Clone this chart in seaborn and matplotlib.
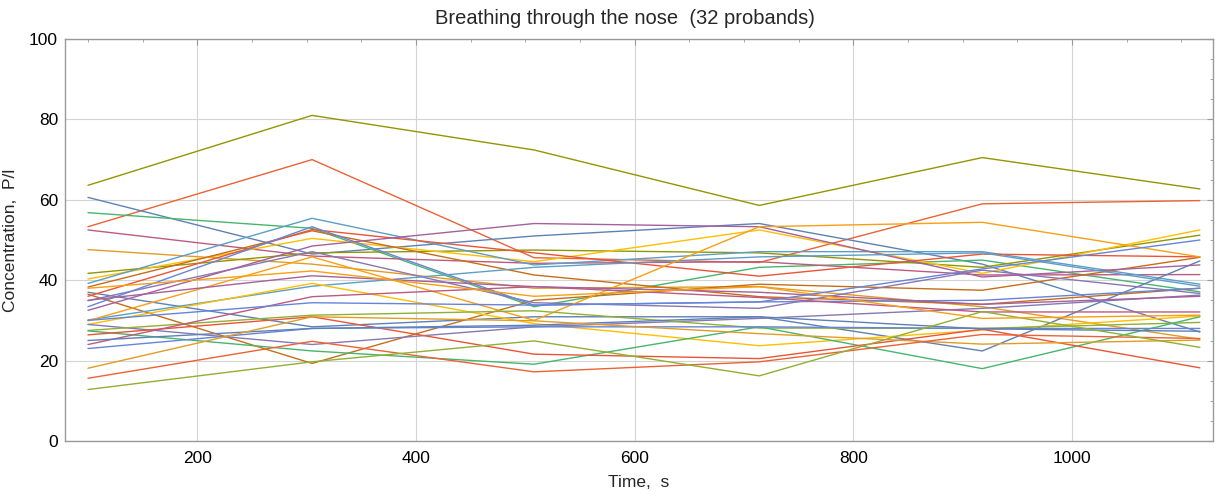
import numpy as np
import pandas as pd
import matplotlib
matplotlib.use("Agg")
import matplotlib.pyplot as plt
import seaborn as sns
from matplotlib.ticker import MultipleLocator

# measurement times (s)
times = [100, 305, 508, 714, 918, 1117]

# concentration of each of the 32 probands at each measurement time (P/l)
conc_t1 = [63.6, 53.3, 60.6, 56.8, 52.5, 47.6, 41.7, 40.3, 39.2, 38.3, 37.0, 36.5, 36.0, 34.9, 33.4, 32.5,
           30.1, 29.9, 29.0, 29.0, 27.5, 27.4, 26.4, 23.0, 24.0, 25.0, 18.1, 15.6, 12.8, 35.0, 38.0, 30.0]
conc_t2 = [81.0, 70.0, 46.5, 52.9, 46.0, 44.0, 46.8, 50.4, 55.4, 52.3, 28.4, 19.3, 52.6, 47.1, 53.3, 48.5,
           38.5, 45.8, 39.2, 24.0, 31.3, 22.4, 30.9, 28.0, 35.9, 28.0, 30.9, 24.8, 19.7, 41.1, 42.3, 34.4]
conc_t3 = [72.4, 45.6, 51.0, 33.4, 44.2, 38.0, 47.5, 44.6, 43.8, 41.3, 30.9, 35.0, 46.8, 34.4, 33.8, 54.1,
           43.2, 30.0, 29.2, 28.4, 32.4, 19.1, 21.6, 28.4, 38.4, 28.8, 29.9, 17.2, 24.9, 38.4, 36.0, 33.8]
conc_t4 = [58.6, 44.4, 54.1, 43.2, 44.6, 38.4, 46.8, 52.5, 47.1, 35.9, 30.9, 39.0, 41.0, 33.0, 34.6, 53.3,
           45.8, 53.3, 23.7, 30.5, 28.1, 28.4, 20.5, 28.4, 35.7, 30.9, 26.7, 19.7, 16.2, 37.0, 38.4, 34.6]
conc_t5 = [70.5, 59.0, 44.0, 45.0, 41.3, 33.4, 43.2, 41.7, 47.1, 34.0, 22.4, 37.5, 46.5, 42.5, 35.0, 40.8,
           46.8, 54.4, 27.6, 33.0, 28.0, 18.0, 27.8, 28.0, 32.1, 27.9, 24.1, 26.5, 32.2, 34.0, 30.5, 42.8]
conc_t6 = [62.7, 59.8, 27.1, 37.1, 41.4, 25.3, 51.2, 52.5, 39.0, 38.0, 44.8, 45.7, 45.8, 36.7, 38.0, 43.8,
           38.5, 45.8, 31.1, 36.3, 29.5, 30.9, 18.2, 28.0, 32.1, 27.3, 25.1, 25.5, 23.3, 36.0, 31.3, 50.0]

line_colors = ["#929600", "#EB6235", "#5E81B5", "#47B66D", "#BC5B80", "#E19C24", "#929600", "#FFBF00",
               "#5D9EC7", "#C56E1A", "#5E81B5", "#C56E1A", "#E95536", "#8778B3", "#6685D9", "#A5609D",
               "#5D9EC7", "#F89F13", "#FFBF00", "#8778B3", "#8FB032", "#47B66D", "#E95536", "#6685D9",
               "#BC5B80", "#5E81B5", "#E19C24", "#EB6235", "#8FB032", "#A5609D", "#F89F13", "#6685D9"]

columns = [conc_t1, conc_t2, conc_t3, conc_t4, conc_t5, conc_t6]
rows = []
for p in range(len(conc_t1)):
    for t, col in zip(times, columns):
        rows.append({"proband": p, "time": t, "conc": col[p]})
df = pd.DataFrame(rows)

sns.set_style("white")
plt.rcParams["font.family"] = ["Liberation Sans", "DejaVu Sans"]

fig = plt.figure(figsize=(12.15, 4.91), dpi=100)
ax = fig.add_axes([65 / 1215, 50 / 491, 1148 / 1215, 402 / 491])

sns.lineplot(data=df, x="time", y="conc", hue="proband", palette=line_colors,
             legend=False, estimator=None, sort=False, linewidth=1.0, ax=ax)

ax.set_xlim(79, 1129)
ax.set_ylim(0, 100)
ax.xaxis.set_major_locator(MultipleLocator(200))
ax.xaxis.set_minor_locator(MultipleLocator(50))
ax.yaxis.set_major_locator(MultipleLocator(20))
ax.yaxis.set_minor_locator(MultipleLocator(5))
ax.grid(True, which="major", color="#d4d4d4", linewidth=0.8)
ax.set_axisbelow(True)

for s in ax.spines.values():
    s.set_color("#9a9a9a")
    s.set_linewidth(1.0)

ax.tick_params(which="both", direction="in", top=True, right=True, color="#9a9a9a",
               labelsize=12.5, labelcolor="black")
ax.tick_params(which="major", length=4, width=0.8, pad=5)
ax.tick_params(which="minor", length=2.2, width=0.6)
ax.tick_params(axis="x", pad=7)

ax.set_xlabel("Time,  s", fontsize=12.5, labelpad=7)
ax.set_ylabel("Concentration,  P/l", fontsize=12.5, labelpad=8)
fig.text(625 / 1215, 1 - 18 / 491, "Breathing through the nose  (32 probands)",
         fontsize=14.5, ha="center", va="center")

fig.savefig("out.png", dpi=100)
